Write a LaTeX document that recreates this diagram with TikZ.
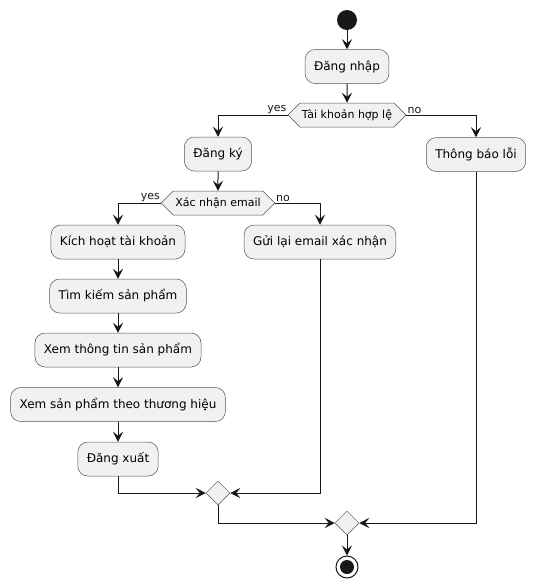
\documentclass[tikz,border=0pt]{standalone}
\usepackage{fontspec}
\setmainfont{DejaVu Sans}
\usetikzlibrary{arrows.meta,shapes.geometric,shapes.symbols}
\definecolor{actfill}{HTML}{F1F1F1}
\definecolor{ink}{HTML}{181818}

\begin{document}
\begin{tikzpicture}[x=1pt,y=-1pt,
  act/.style={draw=ink!75, line width=0.5pt, fill=actfill, rounded corners=10pt,
    minimum height=34pt, inner xsep=9pt, font=\fontsize{12}{14}\selectfont},
  dec/.style={shape=signal, signal to=west and east, signal pointer angle=90,
    draw=ink!75, line width=0.5pt, fill=actfill, minimum height=24pt,
    inner xsep=2pt, inner ysep=2pt, font=\fontsize{11}{13}\selectfont},
  merge/.style={diamond, draw=ink!75, line width=0.5pt, fill=actfill,
    minimum size=24pt, inner sep=0pt},
  flow/.style={draw=ink, line width=1pt, -{Stealth[length=10pt,width=10pt,inset=4pt]}},
  lbl/.style={font=\fontsize{11}{13}\selectfont, inner sep=1pt, text=ink}
]
\useasboundingbox (0,0) rectangle (536,587);

% start / end markers
\node[circle, fill=ink, minimum size=20pt, inner sep=0pt] (start) at (347,20) {};
\node[circle, draw=ink, line width=1pt, fill=white, minimum size=22pt, inner sep=0pt] (stop) at (347,567) {};
\node[circle, fill=ink, minimum size=14pt, inner sep=0pt] (stopdot) at (stop.center) {};

% actions
\node[act] (login)    at (347,66.5) {Đăng nhập};
\node[dec] (check1)   at (347,115)  {Tài khoản hợp lệ};
\node[act] (dangky)   at (218,154)  {Đăng ký};
\node[act] (thongbao) at (476,154.5){Thông báo lỗi};
\node[dec] (check2)   at (218,203)  {Xác nhận email};
\node[act] (kichhoat) at (118,242)  {Kích hoạt tài khoản};
\node[act] (guilai)   at (320,242)  {Gửi lại email xác nhận};
\node[act] (timkiem)  at (118,296)  {Tìm kiếm sản phẩm};
\node[act] (xemtt)    at (118,350)  {Xem thông tin sản phẩm};
\node[act] (xemsp)    at (118,404.5){Xem sản phẩm theo thương hiệu};
\node[act] (dangxuat) at (118,459)  {Đăng xuất};
\node[merge] (merge1) at (218,493)  {};
\node[merge] (merge2) at (347,523)  {};

% main flow
\draw[flow] (start) -- (login);
\draw[flow] (login) -- (check1);
\draw[flow] (check1.west) -| (dangky.north);
\draw[flow] (check1.east) -| (thongbao.north);
\node[lbl, anchor=south east] (yes1) at (check1.west) {yes};
\node[lbl, anchor=south west] (no1)  at (check1.east) {no};

\draw[flow] (dangky) -- (check2);
\draw[flow] (check2.west) -| (kichhoat.north);
\draw[flow] (check2.east) -| (guilai.north);
\node[lbl, anchor=south east] (yes2) at (check2.west) {yes};
\node[lbl, anchor=south west] (no2)  at (check2.east) {no};

\draw[flow] (kichhoat) -- (timkiem);
\draw[flow] (timkiem) -- (xemtt);
\draw[flow] (xemtt) -- (xemsp);
\draw[flow] (xemsp) -- (dangxuat);

% joins
\draw[flow] (dangxuat.south) |- (merge1.west);
\draw[flow] (guilai.south) |- (merge1.east);
\draw[flow] (merge1.south) |- (merge2.west);
\draw[flow] (thongbao.south) |- (merge2.east);
\draw[flow] (merge2) -- (stop);
\end{tikzpicture}
\end{document}
